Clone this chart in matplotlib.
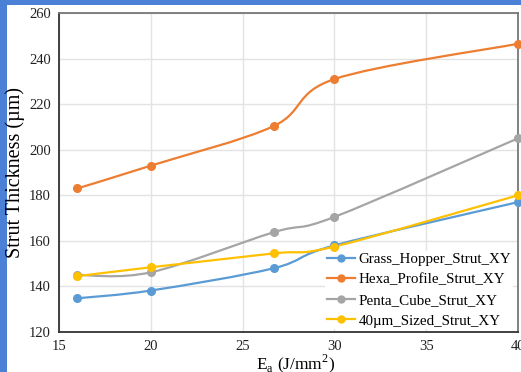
import numpy as np
import matplotlib
matplotlib.use("Agg")
import matplotlib.pyplot as plt
from matplotlib.path import Path
from matplotlib.patches import PathPatch, Rectangle
from matplotlib.lines import Line2D

plt.rcParams['font.family'] = ['Liberation Serif', 'DejaVu Serif']
plt.rcParams['mathtext.fontset'] = 'custom'
plt.rcParams['mathtext.rm'] = 'Liberation Serif'

energy = [16, 20, 26.7, 30, 40]
grass_hopper = [134.8, 138.2, 148.0, 158.0, 177.0]
hexa_profile = [183.0, 193.0, 210.4, 231.0, 246.5]
penta_cube = [145.0, 146.2, 163.8, 170.5, 205.0]
sized_40um = [144.5, 148.4, 154.5, 157.5, 180.0]

series = [
    ("Grass_Hopper_Strut_XY", grass_hopper, '#5B9BD5'),
    ("Hexa_Profile_Strut_XY", hexa_profile, '#ED7D31'),
    ("Penta_Cube_Strut_XY", penta_cube, '#A5A5A5'),
    ("40\u00b5m_Sized_Strut_XY", sized_40um, '#FFC000'),
]


def smooth_path(x, y):
    # excel-like smoothed line: catmull-rom as cubic bezier
    p = np.column_stack([x, y]).astype(float)
    pts = np.vstack([p[0], p, p[-1]])
    verts = [p[0]]
    codes = [Path.MOVETO]
    for i in range(1, len(pts) - 2):
        c1 = pts[i] + (pts[i + 1] - pts[i - 1]) / 6
        c2 = pts[i + 1] - (pts[i + 2] - pts[i]) / 6
        verts += [c1, c2, pts[i + 1]]
        codes += [Path.CURVE4] * 3
    return Path(verts, codes)


fig = plt.figure(figsize=(5.21, 3.72), dpi=100, facecolor='#4a80d6')
# white slide area, blue frame left and top
fig.patches.append(Rectangle((7 / 521, 0), 1, 1 - 5 / 372, transform=fig.transFigure,
                             facecolor='white', edgecolor='none', zorder=-10))

ax = fig.add_axes([59 / 521, 1 - 332 / 372, 459 / 521, 319 / 372])
ax.set_facecolor('none')

handles = []
for name, vals, col in series:
    ax.add_patch(PathPatch(smooth_path(energy, vals), facecolor='none',
                           edgecolor=col, lw=1.6, zorder=3))
    ax.plot(energy, vals, 'o', color=col, ms=5.5, zorder=6, clip_on=False)
    handles.append(Line2D([], [], color=col, lw=1.6, marker='o', ms=5))

ax.set_xlim(15, 40)
ax.set_ylim(120, 260)
ax.set_xticks(range(15, 41, 5))
ax.set_yticks(range(120, 261, 20))
ax.grid(True, color='#e3e3e3', lw=1)
ax.set_axisbelow(True)
ax.tick_params(length=0, labelsize=10.5, colors='#222222', pad=6)

for s in ['left', 'bottom']:
    ax.spines[s].set_color('#333333')
    ax.spines[s].set_linewidth(1.3)
for s in ['top', 'right']:
    ax.spines[s].set_color('#777777')
    ax.spines[s].set_linewidth(1.3)

ax.set_ylabel("Strut Thickness (\u00b5m)", fontsize=14.5, labelpad=3)
ax.set_xlabel("E$_\\mathrm{a}$ (J/mm$^2$)", fontsize=12.5, labelpad=0)
ax.xaxis.set_label_coords(0.515, -0.065)

leg = ax.legend(handles, [s[0] for s in series], loc='lower right',
                bbox_to_anchor=(0.995, 0.0), fontsize=10.8, frameon=True,
                fancybox=False, framealpha=1, handlelength=1.9,
                handletextpad=0.2, labelspacing=0.47, borderpad=0.1,
                borderaxespad=0.2)
leg.get_frame().set_edgecolor('none')
leg.get_frame().set_facecolor('white')
leg.set_zorder(5)

fig.savefig("out.png", dpi=100, facecolor=fig.get_facecolor())
